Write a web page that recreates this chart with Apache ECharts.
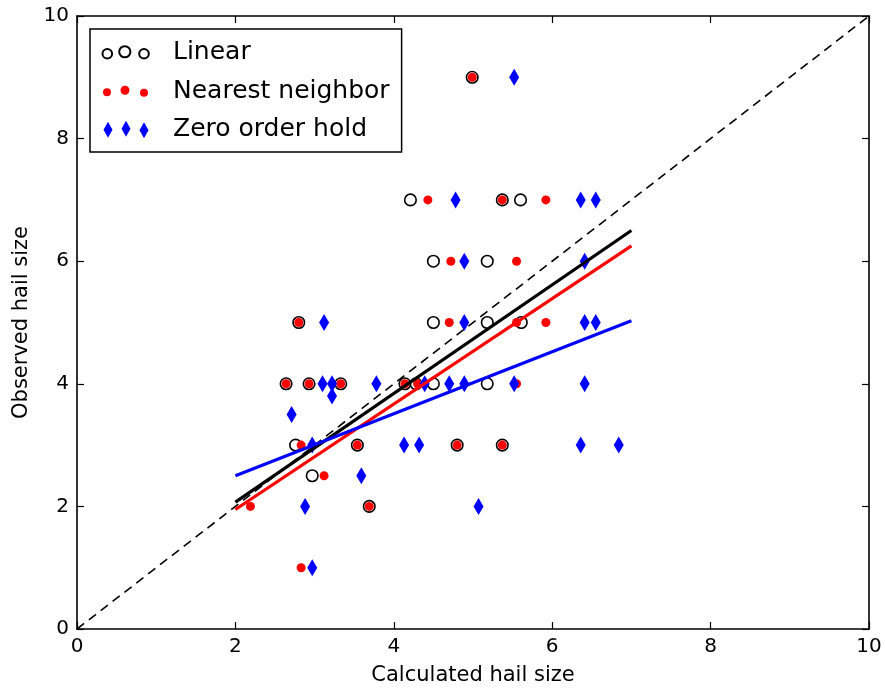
<!DOCTYPE html>
<html>
<head>
<meta charset="utf-8">
<script src="https://cdn.jsdelivr.net/npm/echarts@6/dist/echarts.min.js"></script>
<style>
  html, body { margin: 0; padding: 0; background: #fff; }
  #chart { width: 885px; height: 691px; }
</style>
</head>
<body>
<div id="chart"></div>
<script>
// data
var linearX = [4.99, 4.21, 5.37, 5.60, 4.50, 5.18, 2.80, 4.50, 5.18, 5.61, 2.64, 2.93, 3.33, 4.14, 4.28, 4.50, 5.18, 2.76, 3.54, 4.80, 5.37, 2.97, 3.69];
var linearY = [9, 7, 7, 7, 6, 6, 5, 5, 5, 5, 4, 4, 4, 4, 4, 4, 4, 3, 3, 3, 3, 2.5, 2];

var nearestX = [4.99, 4.43, 5.37, 5.92, 4.72, 5.55, 2.80, 4.70, 5.55, 5.92, 2.64, 2.93, 3.33, 4.14, 4.30, 5.55, 2.83, 3.54, 4.80, 5.37, 3.12, 2.19, 3.69, 2.83];
var nearestY = [9, 7, 7, 7, 6, 6, 5, 5, 5, 5, 4, 4, 4, 4, 4, 4, 3, 3, 3, 3, 2.5, 2, 2, 1];

var zohX = [5.52, 4.78, 6.36, 6.55, 4.89, 6.41, 3.12, 4.89, 6.41, 6.55, 3.10, 3.22, 3.78, 4.39, 4.70, 4.89, 5.52, 6.41, 3.22, 2.71, 2.97, 4.13, 4.32, 6.36, 6.84, 3.59, 2.88, 5.07, 2.97];
var zohY = [9, 7, 7, 7, 6, 6, 5, 5, 5, 5, 4, 4, 4, 4, 4, 4, 4, 4, 3.8, 3.5, 3, 3, 3, 3, 3, 2.5, 2, 2, 1];

// fitted lines (end values)
var fitX = [2, 7];
var linearFit = [2.07, 6.50];
var nearestFit = [1.95, 6.25];
var zohFit = [2.50, 5.03];
var diagX = [0, 10];
var diagY = [0, 10];

var ticks = [0, 2, 4, 6, 8, 10];

var getEle = function(ele){
  return document.querySelector(ele);
}

function zip(xs, ys){
  var out = [];
  for(var i = 0; i < xs.length; i++){
    out.push([xs[i], ys[i]]);
  }
  return out;
}

// legend icons: three markers each, extra moveTo keeps the box 67x17.5
var iconLinear = 'path://M0,-1 M1.5,9A4.8,4.8,0,1,0,11.1,9A4.8,4.8,0,1,0,1.5,9Z M18.2,7A5.6,5.6,0,1,0,29.4,7A5.6,5.6,0,1,0,18.2,7Z M38.2,9A4.8,4.8,0,1,0,47.8,9A4.8,4.8,0,1,0,38.2,9Z M67,16.5';
var iconNearest = 'path://M0,-1 M2,9A4,4,0,1,0,10,9A4,4,0,1,0,2,9Z M19.5,7A4.5,4.5,0,1,0,28.5,7A4.5,4.5,0,1,0,19.5,7Z M39,9.5A4,4,0,1,0,47,9.5A4,4,0,1,0,39,9.5Z M67,16.5';
var iconZoh = 'path://M0,-1 M7,0L11.5,8L7,16L2.5,8Z M25,-1L29.5,7L25,15L20.5,7Z M43,0.5L47.5,8.5L43,16.5L38.5,8.5Z M67,16.5';

var font = 'DejaVu Sans';

function axisBase(pos, showLabel){
  return {
    type: 'value',
    position: pos,
    min: 0,
    max: 10,
    interval: 2,
    axisLine: { show: true, onZero: false, lineStyle: { color: '#000', width: 1.6 } },
    axisTick: { show: true, inside: true, length: 7, lineStyle: { color: '#000', width: 1.2 } },
    axisLabel: {
      show: showLabel, color: '#000', fontSize: 20, fontFamily: font, margin: 8,
      formatter: function(v){ return ticks.indexOf(v) >= 0 ? String(v) : ''; }
    },
    splitLine: { show: false }
  };
}

window.onload = function(){
  var myChart = echarts.init(getEle('#chart'));

  var xBottom = axisBase('bottom', true);
  xBottom.name = 'Calculated hail size';
  xBottom.nameLocation = 'middle';
  xBottom.nameGap = 36;
  xBottom.nameTextStyle = { color: '#000', fontSize: 21, fontFamily: font };
  var xTop = axisBase('top', false);

  var yLeft = axisBase('left', true);
  yLeft.name = 'Observed hail size';
  yLeft.nameLocation = 'middle';
  yLeft.nameGap = 45;
  yLeft.nameTextStyle = { color: '#000', fontSize: 21, fontFamily: font };
  var yRight = axisBase('right', false);

  var option = {
    animation: false,
    backgroundColor: '#fff',
    grid: { left: 77, right: 16, top: 16, bottom: 62, containLabel: false },
    xAxis: [xBottom, xTop],
    yAxis: [yLeft, yRight],
    legend: {
      orient: 'vertical',
      left: 90,
      top: 29,
      padding: [11, 12, 10, 10],
      itemGap: 13.5,
      itemWidth: 67,
      itemHeight: 17.5,
      borderColor: '#000',
      borderWidth: 1.5,
      borderRadius: 0,
      backgroundColor: '#fff',
      textStyle: { color: '#000', fontSize: 25, fontFamily: font },
      selectedMode: false,
      data: [
        { name: 'Linear', icon: iconLinear },
        { name: 'Nearest neighbor', icon: iconNearest },
        { name: 'Zero order hold', icon: iconZoh }
      ]
    },
    series: [
      {
        name: 'Linear',
        type: 'scatter',
        symbol: 'circle',
        symbolSize: 11.5,
        itemStyle: { color: 'rgba(255,255,255,0)', borderColor: '#000', borderWidth: 1.6, opacity: 1 },
        data: zip(linearX, linearY),
        z: 2
      },
      {
        name: 'Nearest neighbor',
        type: 'scatter',
        symbol: 'circle',
        symbolSize: 9,
        itemStyle: { color: '#ff0000', borderWidth: 0, opacity: 1 },
        data: zip(nearestX, nearestY),
        z: 3
      },
      {
        name: 'Zero order hold',
        type: 'scatter',
        symbol: 'diamond',
        symbolSize: [10, 17],
        itemStyle: { color: '#0000ff', borderWidth: 0, opacity: 1 },
        data: zip(zohX, zohY),
        z: 4
      },
      {
        name: 'diag',
        type: 'line',
        showSymbol: false,
        silent: true,
        lineStyle: { color: '#000', width: 1.6, type: [9, 6] },
        data: zip(diagX, diagY),
        z: 5
      },
      {
        name: 'linearFit',
        type: 'line',
        showSymbol: false,
        silent: true,
        lineStyle: { color: '#000', width: 3.2 },
        data: zip(fitX, linearFit),
        z: 6
      },
      {
        name: 'nearestFit',
        type: 'line',
        showSymbol: false,
        silent: true,
        lineStyle: { color: '#ff0000', width: 3.2 },
        data: zip(fitX, nearestFit),
        z: 6
      },
      {
        name: 'zohFit',
        type: 'line',
        showSymbol: false,
        silent: true,
        lineStyle: { color: '#0000ff', width: 3.2 },
        data: zip(fitX, zohFit),
        z: 6
      }
    ]
  };
  myChart.setOption(option);
}
</script>
</body>
</html>
